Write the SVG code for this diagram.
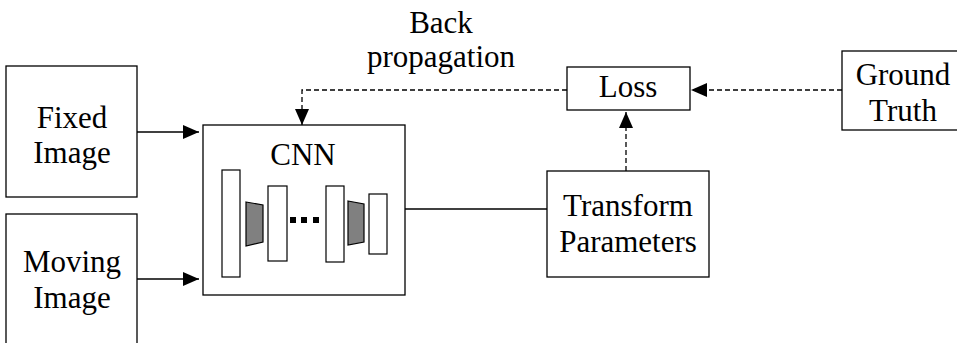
<svg xmlns="http://www.w3.org/2000/svg" width="957" height="343" viewBox="0 0 957 343">
<style>
.box{fill:#fff;stroke:#000;stroke-width:1.3}
.lyr{fill:#fff;stroke:#000;stroke-width:1.2}
.trap{fill:#808080;stroke:#000;stroke-width:1.2}
.t{font-family:'Liberation Serif','Times New Roman',serif;font-size:31px;fill:#000;text-anchor:middle}
.ln{fill:none;stroke:#000;stroke-width:1.3}
.dash{fill:none;stroke:#000;stroke-width:1.3;stroke-dasharray:5 3}
</style>
<defs>
<marker id="ah" markerUnits="userSpaceOnUse" markerWidth="16" markerHeight="14" refX="16" refY="7" orient="auto">
<path d="M0,0 L16,7 L0,14 Z" fill="#000"/>
</marker>
</defs>
<g id="connectors">
<line class="ln" x1="137" y1="132" x2="199" y2="132" marker-end="url(#ah)"/>
<line class="ln" x1="137" y1="279" x2="199" y2="279" marker-end="url(#ah)"/>
<line class="ln" x1="405" y1="209" x2="547" y2="209"/>
<line class="dash" x1="626" y1="171" x2="626" y2="112" marker-end="url(#ah)"/>
<line class="dash" x1="842" y1="90" x2="691" y2="90" marker-end="url(#ah)"/>
<polyline class="dash" points="567,90 302,90 302,125" marker-end="url(#ah)"/>
</g>
<g id="fixed">
<rect class="box" x="6" y="66" width="131" height="131"/>
<text class="t" x="72" y="128">Fixed</text>
<text class="t" x="72" y="163">Image</text>
</g>
<g id="moving">
<rect class="box" x="6" y="214" width="131" height="140"/>
<text class="t" x="72" y="272">Moving</text>
<text class="t" x="72" y="308">Image</text>
</g>
<g id="cnn">
<rect class="box" x="203" y="125" width="202" height="170"/>
<text class="t" x="303" y="165">CNN</text>
<rect class="lyr" x="222" y="170" width="18" height="107"/>
<polygon class="trap" points="246,202 263,205 263,242 246,246"/>
<rect class="lyr" x="268" y="186" width="19" height="75"/>
<rect x="290" y="217" width="6" height="6" fill="#000"/>
<rect x="301" y="217" width="6" height="6" fill="#000"/>
<rect x="313" y="217" width="6" height="6" fill="#000"/>
<rect class="lyr" x="326" y="186" width="18" height="76"/>
<polygon class="trap" points="348,201 364,204 364,242 348,245"/>
<rect class="lyr" x="369" y="194" width="18" height="60"/>
</g>
<g id="transform">
<rect class="box" x="547" y="171" width="162" height="106"/>
<text class="t" x="628" y="216">Transform</text>
<text class="t" x="628" y="252">Parameters</text>
</g>
<g id="loss">
<rect class="box" x="567" y="67" width="123" height="43"/>
<text class="t" x="628" y="97">Loss</text>
</g>
<g id="groundtruth">
<rect class="box" x="842" y="51" width="120" height="79"/>
<text class="t" x="903" y="85">Ground</text>
<text class="t" x="903" y="121">Truth</text>
</g>
<g id="backprop-label">
<text class="t" x="441" y="33">Back</text>
<text class="t" x="441" y="67">propagation</text>
</g>
</svg>
